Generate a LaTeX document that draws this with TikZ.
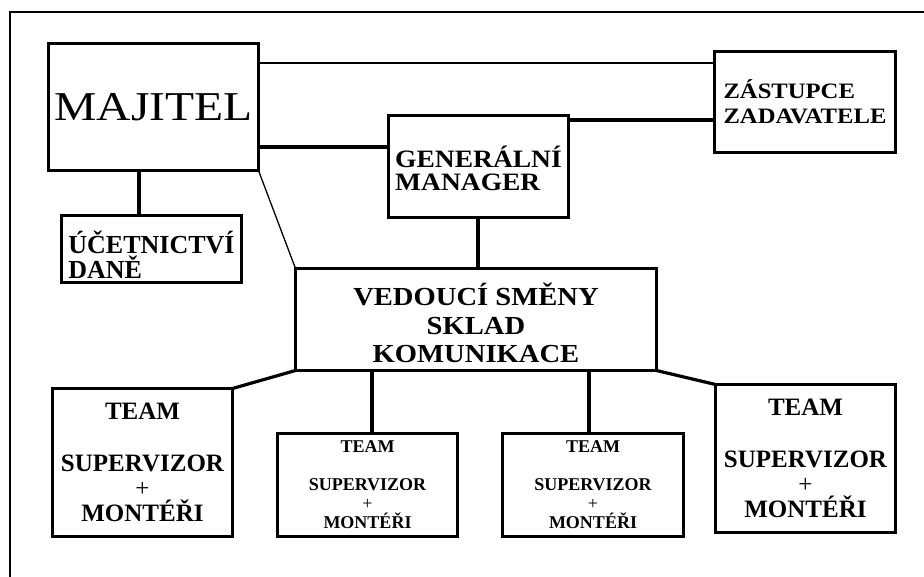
\documentclass[tikz,border=0pt]{standalone}
\usepackage{fontspec}
\setmainfont{Liberation Serif}
\newfontfamily\majfont[FakeStretch=1.16]{Liberation Serif}
\newfontfamily\widea[FakeStretch=1.1]{Liberation Serif}
\newfontfamily\wideb[FakeStretch=1.12]{Liberation Serif}
\begin{document}
\begin{tikzpicture}[x=1pt,y=-1pt,
  box/.style={draw,line width=3.2pt,inner sep=0pt,outer sep=0pt},
  thickline/.style={line width=3.2pt},
  thinline/.style={line width=1.3pt},
  bigteam/.style={box,minimum width=180pt,minimum height=148pt,align=center,
    font=\bfseries\fontsize{25}{25}\selectfont},
  smallteam/.style={box,minimum width=180pt,minimum height=103pt,align=center,
    font=\bfseries\fontsize{18}{19}\selectfont}]
\useasboundingbox (0,0) rectangle (924,576);
\clip (0,0) rectangle (924,576);
\draw[line width=2pt] (10,12) rectangle (980,640);

\node[box,minimum width=210pt,minimum height=127pt,
  font=\majfont\fontsize{41}{45}\selectfont] (maj) at (153.5,107) {MAJITEL};
\node[box,minimum width=181pt,minimum height=101pt,align=left,
  font=\wideb\bfseries\fontsize{22}{25}\selectfont] (zas) at (805,102) {ZÁSTUPCE\\ZADAVATELE};
\node[box,minimum width=180pt,minimum height=102pt,align=left,
  font=\widea\bfseries\fontsize{25}{23}\selectfont] (gm) at (478.5,166.5) {\rule{0pt}{26pt}GENERÁLNÍ\\MANAGER};
\node[box,minimum width=180pt,minimum height=67pt,align=left,
  font=\bfseries\fontsize{26}{25}\selectfont] (uc) at (151.5,249) {\rule{0pt}{35pt}ÚČETNICTVÍ\\DANĚ};
\node[box,minimum width=361pt,minimum height=102pt,align=center,
  font=\widea\bfseries\fontsize{26}{28.5}\selectfont] (ved) at (476,319.5) {\rule{0pt}{30pt}VEDOUCÍ SMĚNY\\SKLAD\\KOMUNIKACE};
\node[bigteam] (t1) at (142.5,462.5) {TEAM\\[27pt]SUPERVIZOR\\{\mdseries +}\\MONTÉŘI};
\node[smallteam] (t2) at (367.5,485) {TEAM\\[19pt]SUPERVIZOR\\{\mdseries +}\\MONTÉŘI};
\node[smallteam,minimum width=181pt] (t3) at (593,485) {TEAM\\[19pt]SUPERVIZOR\\{\mdseries +}\\MONTÉŘI};
\node[bigteam] (t4) at (805.5,458.5) {TEAM\\[27pt]SUPERVIZOR\\{\mdseries +}\\MONTÉŘI};

\coordinate (h63) at (0,63);
\coordinate (h147) at (0,147);
\coordinate (h120) at (0,120);
\coordinate (v478) at (478,0);
\coordinate (v139) at (139,0);
\coordinate (v372) at (372,0);
\coordinate (v589) at (589,0);

\draw[thinline] (maj.east |- h63) -- (zas.west |- h63);
\draw[thickline] (maj.east |- h147) -- (gm.west |- h147);
\draw[thickline] (gm.east |- h120) -- (zas.west |- h120);
\draw[thickline] (gm.south -| v478) -- (ved.north -| v478);
\draw[thickline] (maj.south -| v139) -- (uc.north -| v139);
\draw[thinline] (maj.south east) -- (ved.north west);
\draw[thickline] (ved.south west) -- (t1.north east);
\draw[thickline] (ved.south -| v372) -- (t2.north -| v372);
\draw[thickline] (ved.south -| v589) -- (t3.north -| v589);
\draw[thickline] (ved.south east) -- (t4.north west);
\end{tikzpicture}
\end{document}
